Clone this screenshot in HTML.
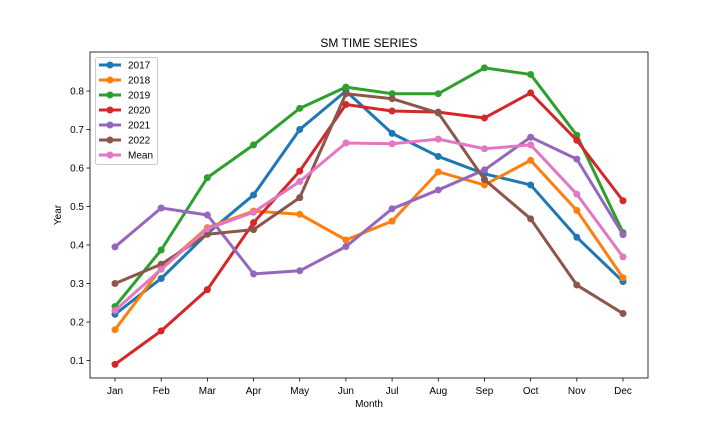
<!DOCTYPE html>
<html><head><meta charset="utf-8"><style>
body{margin:0;background:#fff;}
svg{display:block;font-family:"Liberation Sans","DejaVu Sans",sans-serif;}
</style></head><body>
<svg id="chart" width="720" height="432">
<rect width="720" height="432" fill="#fff"/>
<text x="369" y="47" text-anchor="middle" font-size="12">SM TIME SERIES</text>
<g id="grid"></g>
<g id="series"></g>
<rect x="90" y="52" width="558" height="326" fill="none" stroke="#000" stroke-width="0.8"/>
<text x="369" y="407" text-anchor="middle" font-size="10">Month</text>
<text transform="translate(61,215) rotate(-90)" text-anchor="middle" font-size="10">Year</text>
<g id="legend"></g>
</svg>
<script>
const months=["Jan","Feb","Mar","Apr","May","Jun","Jul","Aug","Sep","Oct","Nov","Dec"];
const yTicks=[0.1,0.2,0.3,0.4,0.5,0.6,0.7,0.8];
const seriesNames=["2017","2018","2019","2020","2021","2022","Mean"];
const s2017=[0.22,0.313,0.43,0.53,0.70,0.80,0.69,0.63,0.585,0.556,0.42,0.305];
const s2018=[0.18,0.34,0.445,0.488,0.48,0.413,0.462,0.59,0.556,0.62,0.49,0.315];
const s2019=[0.24,0.387,0.575,0.66,0.755,0.81,0.793,0.793,0.86,0.843,0.685,0.432];
const s2020=[0.09,0.177,0.284,0.458,0.592,0.765,0.748,0.745,0.73,0.795,0.672,0.515];
const s2021=[0.395,0.496,0.478,0.325,0.333,0.396,0.494,0.543,0.595,0.68,0.623,0.427];
const s2022=[0.30,0.35,0.428,0.44,0.523,0.793,0.78,0.743,0.57,0.468,0.296,0.222];
const sMean=[0.23,0.337,0.442,0.485,0.565,0.665,0.663,0.675,0.65,0.66,0.532,0.369];
const allSeries=[s2017,s2018,s2019,s2020,s2021,s2022,sMean];
const colors=["#1f77b4","#ff7f0e","#2ca02c","#d62728","#9467bd","#8c564b","#e377c2"];
const NS="http://www.w3.org/2000/svg";
function xs(i){return 115+i*(623-115)/(months.length-1);}
function ys(v){return 360.5-(v-0.1)*385;}
function mk(t,a,p){const e=document.createElementNS(NS,t);for(const k in a)e.setAttribute(k,a[k]);p.appendChild(e);return e;}
const grid=document.getElementById('grid');
months.forEach((m,i)=>{
  const tk=mk('line',{x1:xs(i),x2:xs(i),y1:378,y2:381.5,stroke:'#000','stroke-width':0.8},grid);
  
  
  const t=mk('text',{x:xs(i),y:394,'text-anchor':'middle','font-size':10},grid);
  t.textContent=m;
  
  
});
yTicks.forEach(v=>{
  const tk=mk('line',{x1:86.5,x2:90,y1:ys(v),y2:ys(v),stroke:'#000','stroke-width':0.8},grid);
  
  
  const t=mk('text',{x:84,y:ys(v)+3.5,'text-anchor':'end','font-size':10},grid);
  t.textContent=v.toFixed(1);
  
  
});
const sg=document.getElementById('series');
allSeries.forEach((d,si)=>{
  const g=mk('g',{},sg);
  
  
  const pts=d.map((v,i)=>xs(i)+','+ys(v)).join(' ');
  mk('polyline',{points:pts,fill:'none',stroke:colors[si],'stroke-width':3,'stroke-linejoin':'round'},g);
  d.forEach((v,i)=>{
    const c=mk('circle',{cx:xs(i),cy:ys(v),r:3.5,fill:colors[si]},g);
    
    
  });
});
const lg=document.getElementById('legend');


mk('rect',{x:95.5,y:57.5,width:62,height:107,rx:2,fill:'#fff','fill-opacity':0.8,stroke:'#ccc'},lg);
seriesNames.forEach((n,i)=>{
  const y=65+i*15;
  const g=mk('g',{},lg);
  
  
  mk('line',{x1:99,x2:121,y1:y,y2:y,stroke:colors[i],'stroke-width':3},g);
  mk('circle',{cx:110,cy:y,r:3.5,fill:colors[i]},g);
  const t=mk('text',{x:128,y:y+3.5,'font-size':10},g);
  t.textContent=n;
});
</script>
</body></html>
